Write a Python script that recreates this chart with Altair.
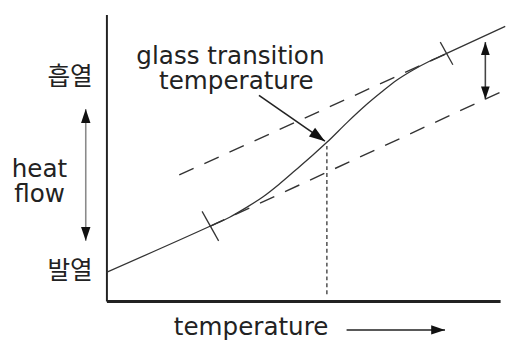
import altair as alt
import pandas as pd

# ---- data (arbitrary units: temperature 0-100, heat flow 0-100) ----
curve_t = [0.0, 26.3, 31.3, 35.5, 39.8, 43.8, 48.0, 52.3, 56.0, 61.3, 65.5, 69.8, 73.8, 78.0, 82.3, 86.3, 101.3]
curve_h = [10.0, 26.1, 29.25, 32.6, 36.4, 40.7, 45.65, 50.8, 55.4, 62.55, 67.9, 72.85, 77.15, 80.75, 83.9, 86.4, 95.9]

# extrapolated baselines (dashed)
base_names = ["lower", "lower", "upper", "upper"]
base_t = [26.3, 101.0, 18.5, 86.3]
base_h = [26.1, 73.5, 44.0, 86.3]

# onset / end tick marks
tick_t1 = [24.3, 84.8]
tick_h1 = [31.3, 90.4]
tick_t2 = [28.5, 88.0]
tick_h2 = [21.0, 82.5]

# glass transition temperature
tg_t = 56.0
tg_h = 55.4
tg_floor = 2.4

# arrows: shaft start / end
arrow_t1 = [-5.25, 96.25, 38.75, 61.0]
arrow_h1 = [21.0, 70.4, 71.8, -10.1]
arrow_t2 = [-5.25, 96.25, 55.5, 86.0]
arrow_h2 = [67.0, 90.4, 55.8, -10.1]

# arrow heads: tip position and direction
head_t = [-5.25, -5.25, 96.25, 96.25, 55.5, 86.0]
head_h = [67.0, 21.0, 90.4, 70.4, 55.8, -10.1]
head_dir = [0, 180, 0, 180, 125, 90]
head_len = [14, 14, 13, 13, 16, 14]

# labels
en_text = ["heat", "flow", "glass transition", "temperature", "temperature"]
en_t = [-17.0, -17.0, 31.5, 33.0, 36.75]
en_h = [43.3, 34.7, 82.8, 73.9, -12.0]
ko_text = ["흡열", "발열"]
ko_t = [-9.25, -9.25]
ko_h = [78.0, 10.5]

# ---- tables ----
curve_df = pd.DataFrame({"t": curve_t, "h": curve_h})
base_df = pd.DataFrame({"name": base_names, "t": base_t, "h": base_h})
tick_df = pd.DataFrame({"t": tick_t1, "h": tick_h1, "t2": tick_t2, "h2": tick_h2})
tg_df = pd.DataFrame({"t": [tg_t], "h": [tg_floor], "h2": [tg_h - 1.3]})
shaft_df = pd.DataFrame({"t": arrow_t1, "h": arrow_h1, "t2": arrow_t2, "h2": arrow_h2,
                         "grp": ["left", "right", "tg", "bottom"]})
head_df = pd.DataFrame({"t": head_t, "h": head_h, "angle": head_dir,
                        "size": [(2 * L) ** 2 for L in head_len]})
en_df = pd.DataFrame({"text": en_text, "t": en_t, "h": en_h})
ko_df = pd.DataFrame({"text": ko_text, "t": ko_t, "h": ko_h})

xs = alt.Scale(domain=[0, 100], nice=False, zero=False)
ys = alt.Scale(domain=[0, 100], nice=False, zero=False)
X = lambda f: alt.X(f, type="quantitative", scale=xs,
                    axis=alt.Axis(domain=True, domainColor="#222", domainWidth=3,
                                  ticks=False, labels=False, grid=False, title=None))
Y = lambda f: alt.Y(f, type="quantitative", scale=ys,
                    axis=alt.Axis(domain=True, domainColor="#222", domainWidth=2,
                                  ticks=False, labels=False, grid=False, title=None))

curve = alt.Chart(curve_df).mark_line(color="#333", strokeWidth=1.3,
                                      interpolate="monotone").encode(x=X("t"), y=Y("h"))

bases = alt.Chart(base_df).mark_line(color="#333", strokeWidth=1.4,
                                     strokeDash=[16, 12]).encode(
    x=X("t"), y=Y("h"), detail="name:N")

ticks = alt.Chart(tick_df).mark_rule(color="#333", strokeWidth=1.3).encode(
    x=X("t"), y=Y("h"), x2="t2", y2="h2")

tgline = alt.Chart(tg_df).mark_rule(color="#333", strokeWidth=1.3,
                                    strokeDash=[4, 3]).encode(x=X("t"), y=Y("h"), y2="h2")

shafts = alt.Chart(shaft_df).mark_rule(strokeWidth=1.6).encode(
    x=X("t"), y=Y("h"), x2="t2", y2="h2",
    color=alt.Color("grp:N", scale=alt.Scale(domain=["left", "right", "tg", "bottom"],
                                             range=["#8a8a8a", "#444", "#222", "#222"]),
                    legend=None))

heads = alt.Chart(head_df).mark_point(
    shape="M0,0 L-0.34,1 L0.34,1 Z", filled=True, color="#111", opacity=1,
    strokeWidth=0).encode(
    x=X("t"), y=Y("h"),
    angle=alt.Angle("angle:Q", scale=None),
    size=alt.Size("size:Q", scale=None))

en_txt = alt.Chart(en_df).mark_text(font="DejaVu Sans", fontSize=25, color="#222",
                                    align="center", baseline="alphabetic").encode(
    x=X("t"), y=Y("h"), text="text:N")

ko_txt = alt.Chart(ko_df).mark_text(font="Noto Sans CJK KR", fontSize=25, color="#222",
                                    align="center", baseline="middle").encode(
    x=X("t"), y=Y("h"), text="text:N")

chart = alt.layer(curve, bases, ticks, tgline, shafts, heads, en_txt, ko_txt).properties(
    width=400, height=291,
    autosize=alt.AutoSizeParams(type="none"),
    padding={"left": 100, "top": 4, "right": 7, "bottom": 42},
    background="white",
).configure_view(stroke=None)

chart.save("out.html", embed_options={"renderer": "svg", "actions": False})
